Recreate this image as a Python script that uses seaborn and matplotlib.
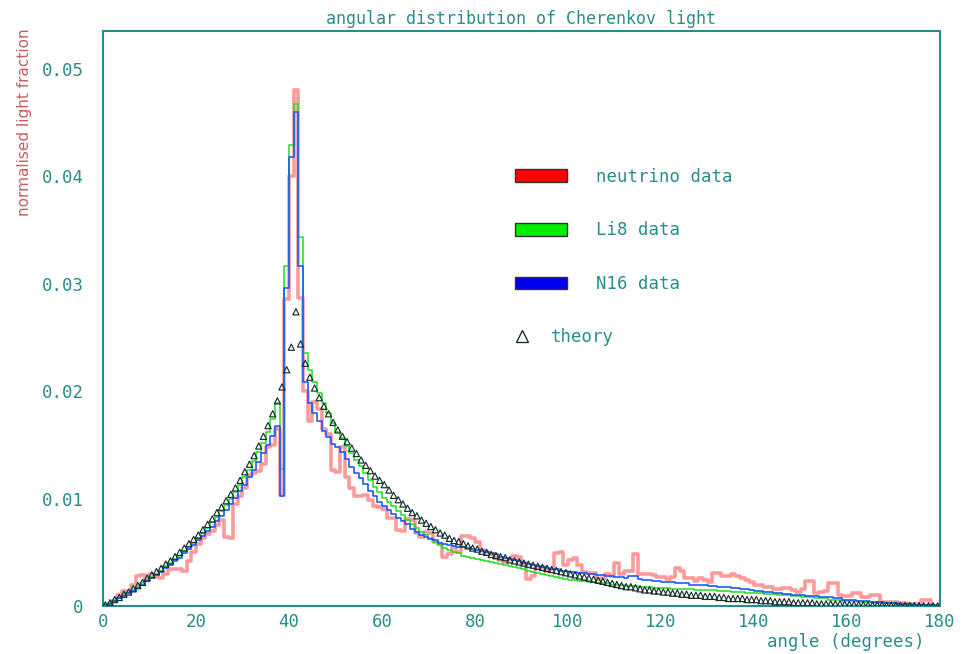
import numpy as np
import pandas as pd
import matplotlib
matplotlib.use('Agg')
import matplotlib.pyplot as plt
import seaborn as sns
from matplotlib.patches import Patch
from matplotlib.lines import Line2D

# 1-degree bins, 0..180
edges = np.arange(0, 181, 1)

# neutrino data (bin by bin)
neutrino = [
    .0000, .0002, .0005, .0010, .0014, .0012, .0020, .0028, .0029, .0024,
    .0030, .0027, .0026, .0030, .0034, .0034, .0034, .0033, .0042, .0050,
    .0058, .0063, .0067, .0070, .0075, .0080, .0064, .0063, .0095, .0102,
    .0110, .0122, .0124, .0126, .0132, .0148, .0150, .0165, .0103, .0286,
    .0400, .0480, .0287, .0200, .0172, .0190, .0183, .0165, .0160, .0127,
    .0125, .0148, .0120, .0110, .0102, .0102, .0103, .0099, .0093, .0092,
    .0090, .0082, .0082, .0071, .0070, .0081, .0080, .0068, .0064, .0069,
    .0068, .0060, .0058, .0046, .0048, .0055, .0050, .0065, .0065, .0063,
    .0060, .0052, .0050, .0048, .0045, .0043, .0041, .0044, .0047, .0046,
    .0040, .0025, .0028, .0035, .0036, .0033, .0034, .0049, .0050, .0038,
    .0043, .0045, .0038, .0032, .0031, .0031, .0025, .0026, .0030, .0028,
    .0040, .0030, .0033, .0033, .0048, .0030, .0030, .0030, .0029, .0027,
    .0027, .0025, .0027, .0035, .0033, .0026, .0026, .0023, .0026, .0024,
    .0022, .0031, .0031, .0028, .0028, .0030, .0028, .0026, .0024, .0022,
    .0020, .0020, .0018, .0018, .0016, .0016, .0017, .0017, .0015, .0013,
    .0016, .0023, .0023, .0012, .0013, .0014, .0021, .0021, .0010, .0009,
    .0009, .0012, .0012, .0008, .0008, .0010, .0010, .0004, .0004, .0004,
    .0004, .0003, .0003, .0002, .0002, .0002, .0006, .0006, .0000, .0000,
]

li8 = [
    .0001, .0003, .0005, .0007, .0010, .0012, .0015, .0018, .0021, .0024,
    .0027, .0030, .0033, .0037, .0040, .0044, .0047, .0051, .0055, .0059,
    .0063, .0068, .0073, .0078, .0083, .0088, .0094, .0100, .0106, .0113,
    .0120, .0127, .0135, .0143, .0152, .0162, .0174, .0189, .0128, .0317,
    .0429, .0467, .0344, .0236, .0220, .0209, .0198, .0189, .0180, .0170,
    .0162, .0156, .0149, .0142, .0136, .0130, .0124, .0117, .0111, .0106,
    .0101, .0097, .0093, .0088, .0085, .0080, .0076, .0073, .0069, .0066,
    .0063, .0060, .0057, .0054, .0052, .0050, .0049, .0047, .0046, .0045,
    .0044, .0043, .0042, .0041, .0040, .0039, .0038, .0037, .0036, .0035,
    .0034, .0033, .0032, .0031, .0030, .0029, .0028, .0027, .0026, .0025,
    .0024, .0024, .0023, .0023, .0022, .0022, .0021, .0021, .0021, .0020,
    .0020, .0020, .0019, .0019, .0019, .0018, .0018, .0018, .0017, .0017,
    .0017, .0017, .0016, .0016, .0016, .0016, .0016, .0015, .0015, .0015,
    .0015, .0015, .0014, .0014, .0014, .0013, .0013, .0013, .0012, .0012,
    .0012, .0012, .0011, .0011, .0011, .0010, .0010, .0010, .0009, .0009,
    .0008, .0008, .0008, .0007, .0007, .0007, .0006, .0006, .0006, .0005,
    .0005, .0005, .0005, .0004, .0004, .0004, .0003, .0003, .0003, .0003,
    .0002, .0002, .0002, .0002, .0001, .0001, .0001, .0001, .0001, .0000,
]

n16 = [
    .0001, .0002, .0005, .0007, .0009, .0012, .0014, .0017, .0020, .0023,
    .0026, .0029, .0032, .0035, .0038, .0042, .0045, .0049, .0053, .0057,
    .0061, .0065, .0070, .0074, .0079, .0084, .0089, .0095, .0101, .0107,
    .0113, .0120, .0127, .0134, .0142, .0150, .0158, .0168, .0102, .0296,
    .0418, .0460, .0317, .0209, .0189, .0180, .0172, .0163, .0157, .0151,
    .0148, .0143, .0137, .0129, .0124, .0119, .0114, .0107, .0102, .0097,
    .0093, .0089, .0086, .0082, .0079, .0076, .0072, .0069, .0066, .0064,
    .0062, .0061, .0059, .0058, .0057, .0056, .0055, .0055, .0054, .0053,
    .0052, .0051, .0050, .0049, .0048, .0046, .0045, .0044, .0043, .0042,
    .0040, .0039, .0038, .0037, .0036, .0035, .0034, .0034, .0033, .0033,
    .0032, .0032, .0031, .0031, .0030, .0030, .0029, .0029, .0028, .0028,
    .0027, .0027, .0026, .0028, .0028, .0025, .0024, .0024, .0023, .0023,
    .0022, .0022, .0022, .0021, .0021, .0021, .0020, .0020, .0020, .0020,
    .0019, .0019, .0018, .0018, .0018, .0017, .0017, .0016, .0016, .0015,
    .0014, .0014, .0013, .0013, .0012, .0012, .0011, .0011, .0010, .0010,
    .0010, .0009, .0009, .0009, .0008, .0008, .0008, .0007, .0007, .0006,
    .0006, .0006, .0005, .0005, .0005, .0004, .0004, .0004, .0003, .0003,
    .0003, .0002, .0002, .0002, .0001, .0001, .0001, .0001, .00005, .00002,
]

theory = [
    .0001, .0003, .0006, .0008, .0011, .0013, .0016, .0019, .0022, .0026,
    .0029, .0032, .0035, .0039, .0042, .0046, .0050, .0054, .0058, .0062,
    .0066, .0071, .0076, .0081, .0087, .0092, .0098, .0104, .0110, .0117,
    .0125, .0132, .0140, .0149, .0158, .0168, .0179, .0191, .0204, .0220,
    .0241, .0274, .0244, .0226, .0213, .0203, .0194, .0186, .0179, .0171,
    .0164, .0158, .0153, .0147, .0142, .0136, .0131, .0126, .0121, .0117,
    .0113, .0108, .0103, .0099, .0095, .0091, .0087, .0084, .0080, .0077,
    .0074, .0071, .0068, .0066, .0063, .0061, .0060, .0058, .0056, .0054,
    .0053, .0051, .0050, .0048, .0047, .0046, .0045, .0043, .0042, .0041,
    .0040, .0039, .0038, .0037, .0036, .0035, .0034, .0033, .0032, .0031,
    .0030, .0029, .0028, .0027, .0026, .0025, .0024, .0023, .0022, .0021,
    .0020, .0019, .0018, .0018, .0017, .0016, .0015, .0015, .0014, .0014,
    .0013, .0013, .0012, .0012, .0011, .0011, .0010, .0010, .0010, .0009,
    .0009, .0009, .0008, .0008, .0007, .0007, .0007, .0007, .0006, .0006,
    .0006, .0005, .0005, .0005, .0004, .0004, .0004, .0004, .0003, .0003,
    .0003, .0003, .0003, .0002, .0002, .0002, .0002, .0002, .0002, .00017,
    .00015, .00014, .00013, .00012, .0001, .0001, .0001, .00009, .00008, .00007,
    .00006, .00005, .00005, .00004, .00004, .00003, .00003, .00002, .00002, .00001,
]

labels = ['neutrino data', 'Li8 data', 'N16 data', 'theory']

teal = '#2b8c8c'
sns.set_style('white')
plt.rcParams['font.family'] = ['DejaVu Sans Mono', 'DejaVu Sans']

df = pd.DataFrame({'angle': edges[:-1] + 0.5, 'neutrino': neutrino,
                   'li8': li8, 'n16': n16, 'theory': theory})

fig = plt.figure(figsize=(9.66, 6.54), dpi=100)
ax = fig.add_axes([0.1066, 0.0734, 0.8665, 0.8792])

hist_kw = dict(data=df, x='angle', binwidth=1, binrange=(0, 180),
               element='step', fill=False, ax=ax)
sns.histplot(weights='neutrino', color='#ff7070', linewidth=2.6, alpha=0.7, **hist_kw)
sns.histplot(weights='li8', color='#22dd22', linewidth=1.1, **hist_kw)
sns.histplot(weights='n16', color='#1a5cff', linewidth=1.2, **hist_kw)
sns.scatterplot(data=df, x='angle', y='theory', marker='^', s=20,
                facecolor='none', edgecolor='#16302f', linewidth=0.85, ax=ax, zorder=5)

ax.set_xlim(0, 180)
ax.set_ylim(0, 0.05354)
ax.set_xticks(np.arange(0, 181, 20))
ax.set_xticks(np.arange(0, 181, 5), minor=True)
ax.set_yticks(np.arange(0, 0.051, 0.01))
ax.set_yticks(np.arange(0, 0.0535, 0.002), minor=True)
ax.set_yticklabels(['0', '0.01', '0.02', '0.03', '0.04', '0.05'])

ax.tick_params(which='both', direction='in', color=teal, labelcolor=teal,
               labelsize=12.5, width=1.4, top=False, right=False)
ax.tick_params(which='major', length=13)
ax.tick_params(which='minor', length=6)
ax.tick_params(axis='y', pad=14)
ax.tick_params(axis='x', pad=5)
for s in ax.spines.values():
    s.set_color(teal)
    s.set_linewidth(1.5)

ax.set_title('angular distribution of Cherenkov light', color=teal,
             fontsize=12, pad=5)
ax.set_xlabel('angle (degrees)', color=teal, fontsize=12.5, ha='right')
ax.xaxis.set_label_coords(0.982, -0.047)
ax.set_ylabel('normalised light fraction', color='#c45e62', fontsize=11,
              family=['Liberation Sans Narrow', 'DejaVu Sans'])
ax.yaxis.set_label_coords(-0.085, 0.842)

handles = [Patch(facecolor='#ff0000', edgecolor='#333333', linewidth=1),
           Patch(facecolor='#00ee00', edgecolor='#333333', linewidth=1),
           Patch(facecolor='#0000ee', edgecolor='#333333', linewidth=1)]
leg1 = ax.legend(handles, labels[:3], loc='upper left', bbox_to_anchor=(0.492, 0.762),
                 frameon=False, fontsize=12.5, labelcolor=teal, handlelength=3.0,
                 handleheight=0.75, handletextpad=1.7, labelspacing=2.05,
                 borderpad=0, borderaxespad=0)
ax.add_artist(leg1)
th = Line2D([], [], marker='^', linestyle='none', markersize=8,
            markerfacecolor='none', markeredgecolor='#16302f', markeredgewidth=1)
ax.legend([th], labels[3:], loc='center left', bbox_to_anchor=(0.49, 0.468),
          frameon=False, fontsize=12.5, labelcolor=teal, handlelength=1.0,
          handletextpad=1.2, borderpad=0, borderaxespad=0)

fig.savefig('out.png', dpi=100)
